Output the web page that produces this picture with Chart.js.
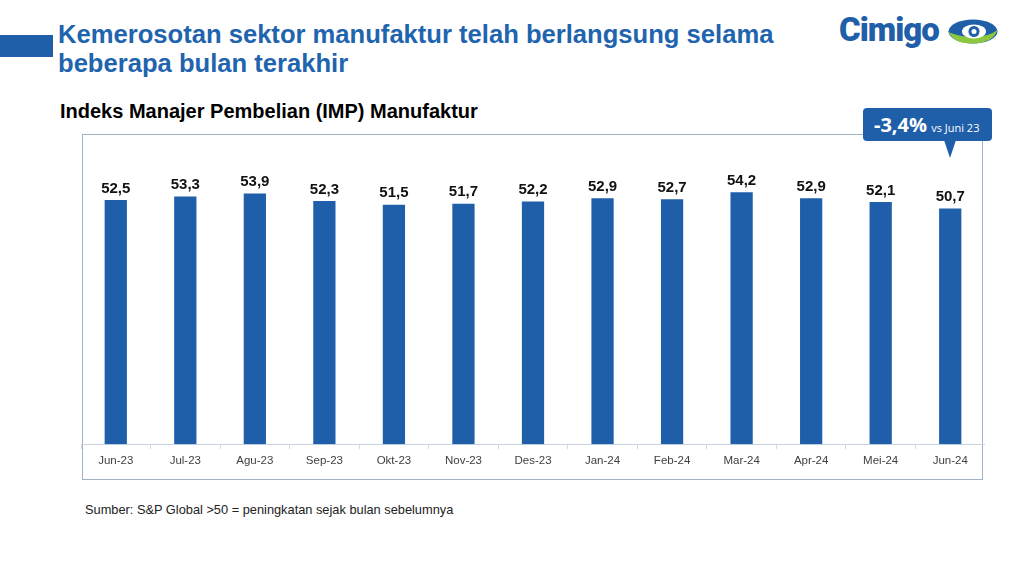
<!DOCTYPE html>
<html>
<head>
<meta charset="utf-8">
<script src="https://cdn.jsdelivr.net/npm/chart.js@4"></script>
<style>
  html, body { margin: 0; padding: 0; background: #fff; }
  body { width: 1024px; height: 576px; position: relative; overflow: hidden; font-family: "Liberation Sans", Arial, sans-serif; }
  .bar-left { position: absolute; left: 0; top: 35px; width: 53px; height: 22px; background: #1f5fa9; }
  .title { position: absolute; left: 58px; top: 20px; font-size: 25.6px; line-height: 29px; font-weight: bold; color: #1f64ae; }
  .subtitle { position: absolute; left: 60px; top: 100px; font-size: 20px; font-weight: bold; color: #000; }
  .frame { position: absolute; left: 82px; top: 134px; width: 899px; height: 344px; border: 1px solid #9fb3c6; }
  .wrap { position: absolute; left: 81px; top: 134px; width: 904px; height: 346px; }
  .note { position: absolute; left: 85px; top: 502px; font-size: 12.8px; color: #222; }
  .callout { position: absolute; left: 863px; top: 108px; width: 129px; height: 33px; background: #1f5fa9; border-radius: 4px;
             color: #fff; font-family: "Open Sans", sans-serif; box-sizing: border-box; padding-left: 11px; line-height: 33px; white-space: nowrap; }
  .callout b { font-size: 20px; }
  .callout span { font-size: 11px; }
  .tip { position: absolute; left: 944px; top: 140px; width: 0; height: 0; border-left: 6px solid transparent; border-right: 6px solid transparent; border-top: 18px solid #1f5fa9; }
  .logo { position: absolute; left: 836px; top: 6px; width: 170px; height: 50px; }
</style>
</head>
<body>
<div class="bar-left"></div>
<div class="title">Kemerosotan sektor manufaktur telah berlangsung selama<br>beberapa bulan terakhir</div>
<div class="subtitle">Indeks Manajer Pembelian (IMP) Manufaktur</div>
<div class="frame"></div>
<div class="wrap"><canvas id="pmiChart" width="904" height="346"></canvas></div>
<div class="note">Sumber: S&amp;P Global &gt;50 = peningkatan sejak bulan sebelumnya</div>
<div class="callout"><b>-3,4%</b> <span>vs Juni 23</span></div>
<div class="tip"></div>
<svg class="logo" viewBox="0 0 170 50">
  <text x="3" y="35" font-family="Roboto, 'Liberation Sans', sans-serif" font-weight="900" font-size="33" fill="#1f5fa9" letter-spacing="-1">Cimigo</text>
  <ellipse cx="137" cy="25.5" rx="24.5" ry="12" fill="#1f5fa9"/>
  <path d="M112.5 26 Q118 38 137 37.5 Q157 37 161.5 24 Q152 31 138 31 Q123 31 112.5 26 Z" fill="#8dc63f"/>
  <ellipse cx="138" cy="25.5" rx="12" ry="7" fill="#fff"/>
  <circle cx="138" cy="25.5" r="5.5" fill="#1f5fa9"/>
  <circle cx="138" cy="25.5" r="2.5" fill="#fff"/>
</svg>
<script>
const months = ['Jun-23', 'Jul-23', 'Agu-23', 'Sep-23', 'Okt-23', 'Nov-23', 'Des-23', 'Jan-24', 'Feb-24', 'Mar-24', 'Apr-24', 'Mei-24', 'Jun-24'];
const pmiValues = [52.5, 53.3, 53.9, 52.3, 51.5, 51.7, 52.2, 52.9, 52.7, 54.2, 52.9, 52.1, 50.7];

// label nilai di atas batang (koma desimal)
const valueLabels = {
    id: 'valueLabels',
    afterDatasetsDraw(chart) {
        const ctx = chart.ctx;
        const meta = chart.getDatasetMeta(0);
        ctx.save();
        ctx.font = 'bold 15px "Liberation Sans", Arial, sans-serif';
        ctx.fillStyle = '#111';
        ctx.textAlign = 'center';
        ctx.textBaseline = 'bottom';
        meta.data.forEach((bar, i) => {
            ctx.fillText(pmiValues[i].toFixed(1).replace('.', ','), bar.x, bar.y - 4);
        });
        ctx.restore();
    }
};

new Chart(document.getElementById('pmiChart'), {
    type: 'bar',
    data: {
        labels: months,
        datasets: [{
            data: pmiValues,
            backgroundColor: '#1f5fa9',
            barPercentage: 0.32,
            categoryPercentage: 1
        }]
    },
    options: {
        responsive: false,
        animation: false,
        layout: { padding: { top: 8, bottom: 7 } },
        plugins: { legend: { display: false }, tooltip: { enabled: false } },
        scales: {
            x: {
                grid: { drawOnChartArea: false, drawTicks: true, tickLength: 5, color: '#d9d9d9' },
                border: { color: '#c9d3de' },
                ticks: { color: '#404040', font: { size: 11.5, family: '"Liberation Sans", Arial, sans-serif' }, padding: 5 }
            },
            y: { display: false, min: 0, max: 65 }
        }
    },
    plugins: [valueLabels]
});
</script>
</body>
</html>
